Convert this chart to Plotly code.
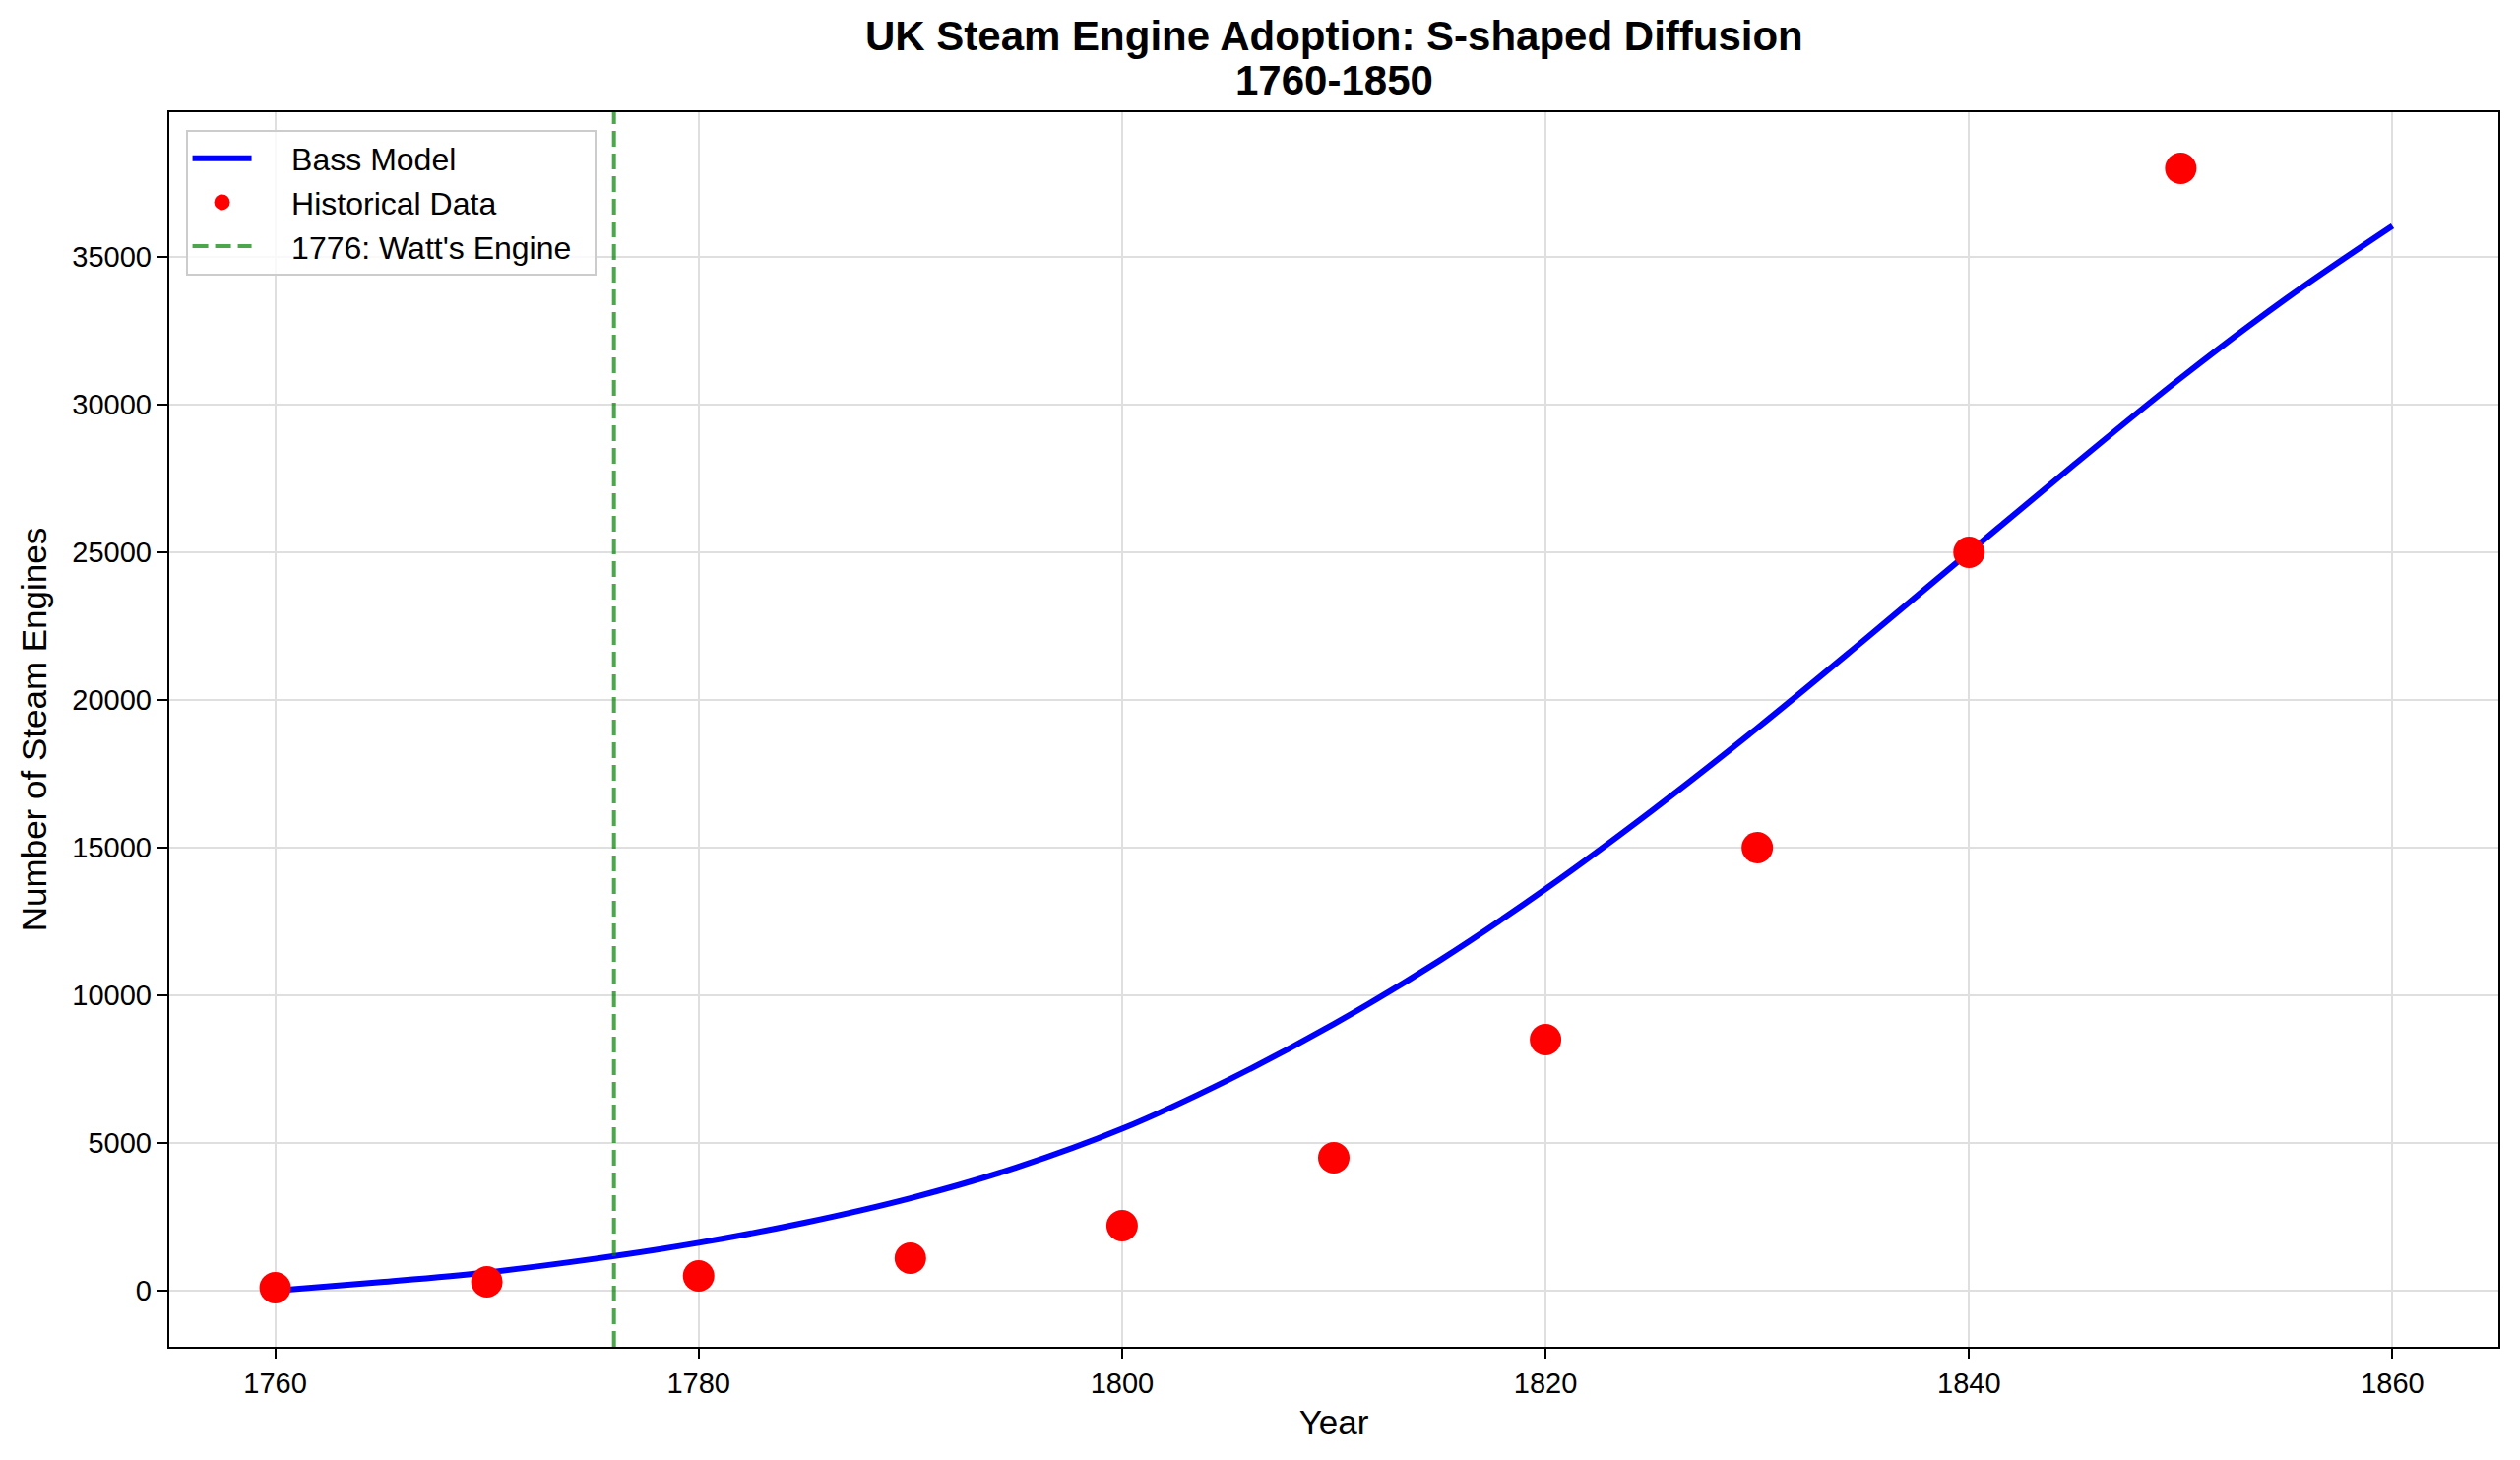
import plotly.graph_objects as go

# ---- data ----
model_years = [1760, 1765, 1770, 1775, 1780, 1785, 1790, 1795, 1800, 1805, 1810,
               1815, 1820, 1825, 1830, 1835, 1840, 1845, 1850, 1855, 1860]
model_values = [0, 290, 620, 1070, 1620, 2300, 3130, 4170, 5480, 7130, 9030,
                11180, 13600, 16240, 19050, 22000, 25000, 27990, 30900, 33600, 36050]

hist_years = [1760, 1770, 1780, 1790, 1800, 1810, 1820, 1830, 1840, 1850]
hist_values = [100, 300, 500, 1100, 2200, 4500, 8500, 15000, 25000, 38000]

watt_year = 1776
watt_label = "1776: Watt's Engine"

x_ticks = [1760, 1780, 1800, 1820, 1840, 1860]
y_ticks = [0, 5000, 10000, 15000, 20000, 25000, 30000, 35000]

title_line1 = "UK Steam Engine Adoption: S-shaped Diffusion"
title_line2 = "1760-1850"

FONT = "Liberation Sans, Arial, Helvetica, sans-serif"
PAD = "\u00a0\u00a0\u00a0\u00a0"
TAIL = "\u00a0\u00a0"

fig = go.Figure()
fig.add_trace(go.Scatter(
    x=model_years, y=model_values, mode="lines", name=PAD + "Bass Model",
    line=dict(color="#0000ff", width=6, shape="spline", smoothing=1.0),
    legendrank=1,
))
fig.add_trace(go.Scatter(
    x=hist_years, y=hist_values, mode="markers", name=PAD + "Historical Data",
    marker=dict(color="#ff0000", size=32, line=dict(width=0)),
    legendrank=2,
))
fig.add_shape(
    type="line", x0=watt_year, x1=watt_year, xref="x", y0=0, y1=1, yref="paper",
    line=dict(color="rgba(0,128,0,0.7)", width=4, dash="16px,7px"),
    showlegend=True, name=PAD + watt_label + TAIL, legendrank=3, layer="above",
)

plot_l, plot_r, plot_t, plot_b = 172, 2538, 114, 1368
H = 1483

def py(pix):
    return (plot_b - pix) / (plot_b - plot_t)

fig.add_annotation(text="<b>" + title_line1 + "</b>", xref="paper", yref="paper",
                   x=0.5, y=py(36), xanchor="center", yanchor="middle",
                   showarrow=False, font=dict(size=42, color="black", family=FONT))
fig.add_annotation(text="<b>" + title_line2 + "</b>", xref="paper", yref="paper",
                   x=0.5, y=py(82), xanchor="center", yanchor="middle",
                   showarrow=False, font=dict(size=42, color="black", family=FONT))

axis_common = dict(
    showline=True, linecolor="black", linewidth=2.4, mirror=True,
    ticks="outside", ticklen=10, tickwidth=2.4, tickcolor="black",
    showgrid=True, gridcolor="#dfdfdf", gridwidth=2,
    zeroline=False, tickfont=dict(size=29, color="black", family=FONT),
)

fig.update_layout(
    width=2560, height=H,
    margin=dict(l=plot_l, r=2560 - plot_r, t=plot_t, b=H - plot_b, pad=0),
    paper_bgcolor="white", plot_bgcolor="white",
    font=dict(family=FONT, color="black"),
    xaxis=dict(range=[1755, 1865], tickvals=x_ticks, tickformat="d",
               title=dict(text="Year", font=dict(size=35, family=FONT), standoff=12),
               **axis_common),
    yaxis=dict(range=[-1900, 39900], tickvals=y_ticks, tickformat="d",
               title=dict(text="Number of Steam Engines", font=dict(size=35, family=FONT), standoff=15),
               **axis_common),
    legend=dict(x=0.007, y=0.986, xanchor="left", yanchor="top",
                bgcolor="rgba(255,255,255,0.8)", bordercolor="#cccccc", borderwidth=2,
                font=dict(size=32, family=FONT, color="black"),
                tracegroupgap=0, itemwidth=60),
    showlegend=True,
)

fig.write_html("out.html")
